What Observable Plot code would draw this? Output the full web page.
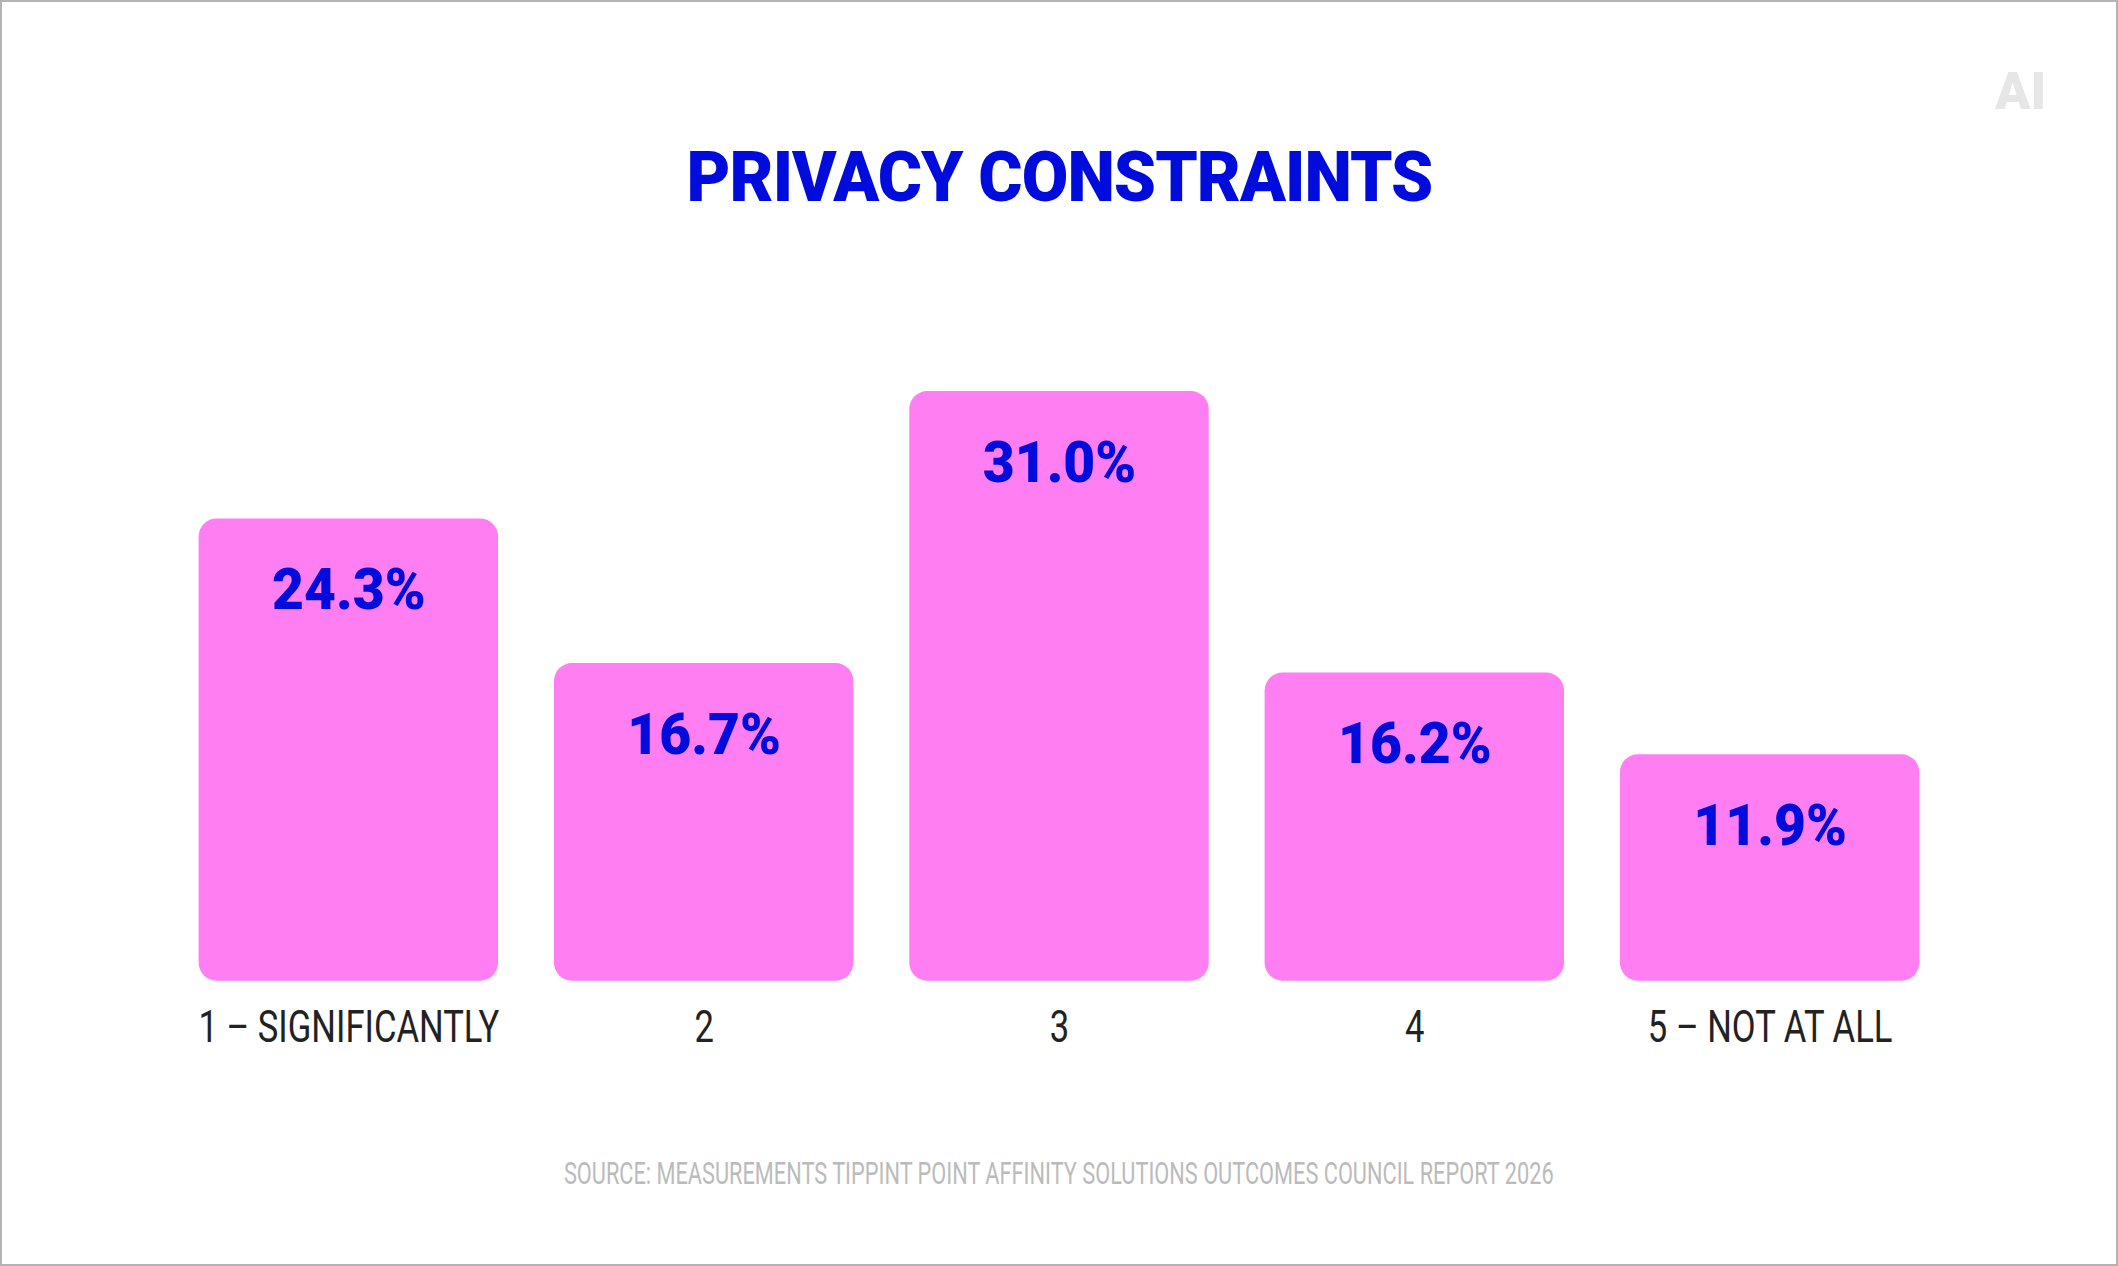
<!DOCTYPE html>
<html>
<head>
<meta charset="utf-8">
<script src="https://cdn.jsdelivr.net/npm/d3@7"></script>
<script src="https://cdn.jsdelivr.net/npm/@observablehq/plot@0.6"></script>
<style>
  html, body { margin: 0; padding: 0; background: #fff; }
  #frame { position: relative; width: 2118px; height: 1266px; box-sizing: border-box; border: 2px solid #b3b3b3; overflow: hidden; background: #fff; }
  #title { position: absolute; left: 0; right: 0; top: 140px; text-align: center; line-height: 1; }
  #title span { display: inline-block; font-family: Roboto, sans-serif; font-weight: 900; font-size: 70px; color: #000CDC; letter-spacing: -1px; transform: scaleX(0.965); }
  #logo { position: absolute; left: 1993px; top: 64px; font-family: Roboto, sans-serif; font-weight: 900; font-size: 52px; color: #e6e6e6; line-height: 1; }
  #chart { position: absolute; left: 0; top: 300px; }
  #source { position: absolute; left: 0; right: 0; top: 1155px; text-align: center; line-height: 1; }
  #source span { display: inline-block; font-family: Roboto, sans-serif; font-size: 32px; color: #bbbbbb; transform: scaleX(0.68); white-space: nowrap; }
</style>
</head>
<body>
<div id="frame">
  <div id="logo">AI</div>
  <div id="title"><span>PRIVACY CONSTRAINTS</span></div>
  <div id="chart"></div>
  <div id="source"><span>SOURCE: MEASUREMENTS TIPPINT POINT AFFINITY SOLUTIONS OUTCOMES COUNCIL REPORT 2026</span></div>
</div>
<script>
const categories = ["1 – SIGNIFICANTLY", "2", "3", "4", "5 – NOT AT ALL"];
const values = [24.3, 16.7, 31.0, 16.2, 11.9];
const valueLabels = ["24.3%", "16.7%", "31.0%", "16.2%", "11.9%"];

const data = categories.map((c, i) => ({category: c, value: values[i], label: valueLabels[i]}));

const chart = Plot.plot({
  width: 2118,
  height: 780,
  marginLeft: 196,
  marginRight: 196,
  marginTop: 13,
  marginBottom: 100,
  style: {background: "transparent", overflow: "visible"},
  x: {domain: categories, paddingInner: 0.158, paddingOuter: 0, axis: null, label: null},
  y: {domain: [0, 35], axis: null},
  marks: [
    Plot.barY(data, {x: "category", y: "value", fill: "#FF7FF3", rx: 18}),
    Plot.text(data, {
      x: "category", y: "value", text: "label", dy: 72,
      fill: "#000CDC", fontSize: 57, fontWeight: 900,
      fontFamily: "Roboto, sans-serif", className: "value-label"
    }),
    Plot.axisX({
      domain: categories, tickSize: 0, tickPadding: 29, fontSize: 45, label: null,
      fill: "#222", fontFamily: "Roboto, sans-serif", className: "category-label"
    })
  ]
});
// condense the labels horizontally to mimic the narrow typeface of the reference
const condense = (texts, k) => texts.forEach(t => {
  const tr = t.getAttribute("transform") || "";
  t.setAttribute("transform", tr + ` scale(${k},1)`);
});
const allTexts = Array.from(chart.querySelectorAll("text"));
condense(allTexts.filter(t => categories.includes(t.textContent)), 0.77);
condense(allTexts.filter(t => valueLabels.includes(t.textContent)), 0.97);
document.getElementById("chart").appendChild(chart);
</script>
</body>
</html>
